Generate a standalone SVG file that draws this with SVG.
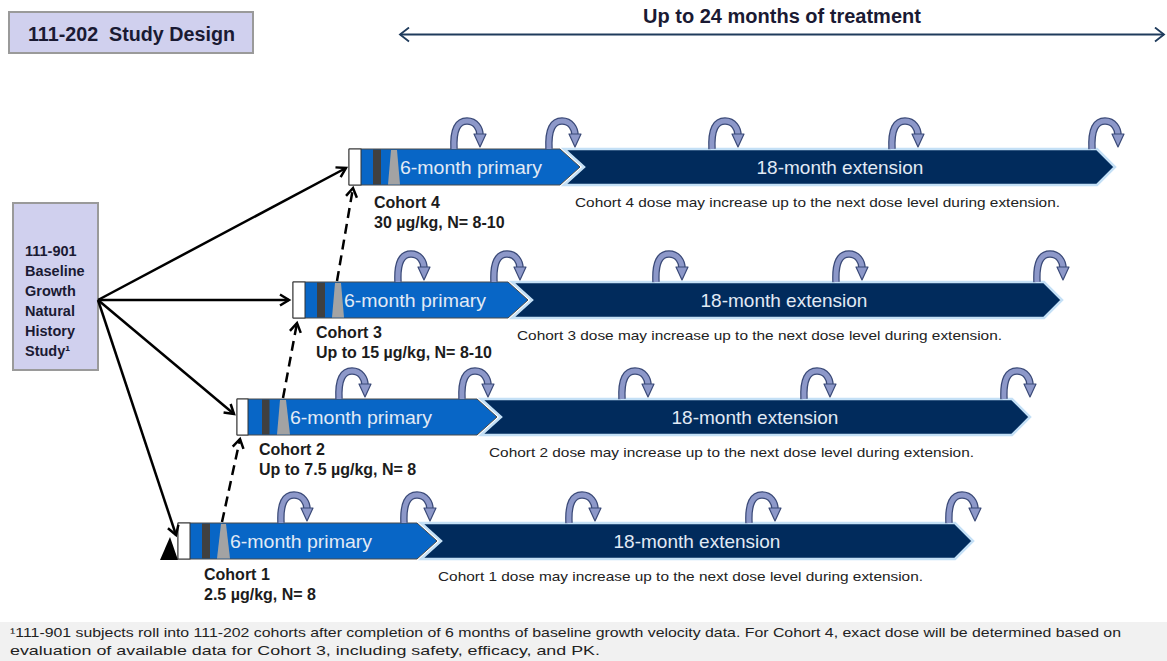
<svg xmlns="http://www.w3.org/2000/svg" xmlns:xlink="http://www.w3.org/1999/xlink" width="1167" height="661" viewBox="0 0 1167 661">
<style>
.box{fill:#d0d0ee;stroke:#9a9a9a;stroke-width:2}
.ttl{font-family:"Liberation Sans",Arial,sans-serif;font-weight:bold;fill:#1a1a33}
.prim{fill:#0866c6;stroke:#4a4a4a;stroke-width:1}
.ext{fill:#012b5c;stroke:#c4e0f6;stroke-width:2.5}
.wht{fill:#ffffff;stroke:#333;stroke-width:1}
.strp{fill:#404040}
.trap{fill:#a3a3a3}
.bart{font-family:"Liberation Sans",Arial,sans-serif;font-size:19px;fill:#e2eaf5}
.lbl{font-family:"Liberation Sans",Arial,sans-serif;font-size:16px;font-weight:bold;fill:#1c1c1c}
.note{font-family:"Liberation Sans",Arial,sans-serif;font-size:13px;fill:#222}
.foot{font-family:"Liberation Sans",Arial,sans-serif;font-size:13px;fill:#222}
.sol{fill:none;stroke:#000;stroke-width:2.5;marker-end:url(#ah)}
.dash{fill:none;stroke:#000;stroke-width:2.5;stroke-dasharray:10 6;marker-end:url(#ah)}
.loopo{fill:none;stroke:#3b4a78;stroke-width:7.5}
.loopi{fill:none;stroke:#8d98c9;stroke-width:5}
.looph{fill:#8d98c9;stroke:#3b4a78;stroke-width:1.2;stroke-linejoin:round}
</style>
<defs>
<marker id="ah" markerWidth="14" markerHeight="14" refX="11" refY="7" orient="auto" markerUnits="userSpaceOnUse">
<path d="M2,1.5 L11,7 L2,12.5" fill="none" stroke="#000" stroke-width="2.5"/>
</marker>
<marker id="tah" markerWidth="14" markerHeight="16" refX="10" refY="8" orient="auto-start-reverse" markerUnits="userSpaceOnUse">
<path d="M1,1 L10,8 L1,15" fill="none" stroke="#1f3b5c" stroke-width="1.8"/>
</marker>
<g id="loop">
<path class="loopo" d="M4,0 C3,-20 8,-28 17,-28 C26,-28 30,-20 30,-14"/>
<path class="loopi" d="M4,0 C3,-20 8,-28 17,-28 C26,-28 30,-20 30,-14"/>
<polygon class="looph" points="24,-15 36,-15 30,-2"/>
</g>
</defs>

<g id="title">
<rect class="box" x="9" y="12" width="244" height="41"/>
<text class="ttl" x="28" y="41" font-size="19.5" xml:space="preserve" textLength="207" lengthAdjust="spacingAndGlyphs">111-202  Study Design</text>
</g>

<g id="timeline">
<line x1="400" y1="34.5" x2="1164" y2="34.5" stroke="#1f3b5c" stroke-width="1.8" marker-start="url(#tah)" marker-end="url(#tah)"/>
<text class="ttl" x="782" y="23" font-size="20" text-anchor="middle" fill="#222">Up to 24 months of treatment</text>
</g>

<g id="baseline-study">
<rect class="box" x="13" y="203" width="85" height="167"/>
<text class="ttl" font-size="14.5" x="25" y="256">111-901</text>
<text class="ttl" font-size="14.5" x="25" y="276">Baseline</text>
<text class="ttl" font-size="14.5" x="25" y="296">Growth</text>
<text class="ttl" font-size="14.5" x="25" y="316">Natural</text>
<text class="ttl" font-size="14.5" x="25" y="336">History</text>
<text class="ttl" font-size="14.5" x="25" y="356">Study¹</text>
</g>

<g id="cohort4">
<polygon class="ext" points="564,149 1097,149 1115,167 1097,185 564,185 584,167"/>
<polygon class="prim" points="349,149 560,149 580,167 560,185 349,185"/>
<rect class="wht" x="349" y="149" width="12" height="36"/>
<rect class="strp" x="373" y="149.5" width="8" height="35"/>
<polygon class="trap" points="391,150 397,150 400,184.5 388,184.5"/>
<text class="bart" x="400" y="174" textLength="142" lengthAdjust="spacingAndGlyphs">6-month primary</text>
<text class="bart" x="840" y="174" text-anchor="middle">18-month extension</text>
<use href="#loop" x="450" y="149"/>
<use href="#loop" x="545" y="149"/>
<use href="#loop" x="708" y="149"/>
<use href="#loop" x="888" y="149"/>
<use href="#loop" x="1088" y="149"/>
<text class="lbl" x="374" y="208">Cohort 4</text>
<text class="lbl" x="374" y="228">30 µg/kg, N= 8-10</text>
<text class="note" x="575" y="207" textLength="485" lengthAdjust="spacingAndGlyphs">Cohort 4 dose may increase up to the next dose level during extension.</text>
</g>

<g id="cohort3">
<polygon class="ext" points="512,282 1044,282 1062,300 1044,318 512,318 532,300"/>
<polygon class="prim" points="293,282 508,282 528,300 508,318 293,318"/>
<rect class="wht" x="293" y="282" width="12" height="36"/>
<rect class="strp" x="317" y="282.5" width="8" height="35"/>
<polygon class="trap" points="335,283 341,283 344,317.5 332,317.5"/>
<text class="bart" x="344" y="307" textLength="142" lengthAdjust="spacingAndGlyphs">6-month primary</text>
<text class="bart" x="784" y="307" text-anchor="middle">18-month extension</text>
<use href="#loop" x="394" y="282"/>
<use href="#loop" x="490" y="282"/>
<use href="#loop" x="652" y="282"/>
<use href="#loop" x="832" y="282"/>
<use href="#loop" x="1033" y="282"/>
<text class="lbl" x="316" y="338">Cohort 3</text>
<text class="lbl" x="316" y="358">Up to 15 µg/kg, N= 8-10</text>
<text class="note" x="517" y="340" textLength="485" lengthAdjust="spacingAndGlyphs">Cohort 3 dose may increase up to the next dose level during extension.</text>
</g>

<g id="cohort2">
<polygon class="ext" points="481,399 1012,399 1030,417 1012,435 481,435 501,417"/>
<polygon class="prim" points="237,399 477,399 497,417 477,435 237,435"/>
<rect class="wht" x="237" y="399" width="11" height="36"/>
<rect class="strp" x="262" y="399.5" width="7.5" height="35"/>
<polygon class="trap" points="280,400 286,400 290,434.5 277,434.5"/>
<text class="bart" x="290" y="424" textLength="142" lengthAdjust="spacingAndGlyphs">6-month primary</text>
<text class="bart" x="755" y="424" text-anchor="middle">18-month extension</text>
<use href="#loop" x="335" y="399"/>
<use href="#loop" x="458" y="399"/>
<use href="#loop" x="618" y="399"/>
<use href="#loop" x="800" y="399"/>
<use href="#loop" x="1000" y="399"/>
<text class="lbl" x="259" y="455">Cohort 2</text>
<text class="lbl" x="259" y="475">Up to 7.5 µg/kg, N= 8</text>
<text class="note" x="489" y="457" textLength="485" lengthAdjust="spacingAndGlyphs">Cohort 2 dose may increase up to the next dose level during extension.</text>
</g>

<g id="cohort1">
<polygon class="ext" points="421,523 955,523 973,541 955,559 421,559 441,541"/>
<polygon class="prim" points="178,523 417,523 437,541 417,559 178,559"/>
<rect class="wht" x="178" y="523" width="12" height="36"/>
<rect class="strp" x="202" y="523.5" width="8" height="35"/>
<polygon class="trap" points="221,524 226,524 230,558.5 217,558.5"/>
<text class="bart" x="230" y="548" textLength="142" lengthAdjust="spacingAndGlyphs">6-month primary</text>
<text class="bart" x="697" y="548" text-anchor="middle">18-month extension</text>
<use href="#loop" x="277" y="523"/>
<use href="#loop" x="400" y="523"/>
<use href="#loop" x="565" y="523"/>
<use href="#loop" x="745" y="523"/>
<use href="#loop" x="945" y="523"/>
<text class="lbl" x="204" y="580">Cohort 1</text>
<text class="lbl" x="204" y="600">2.5 µg/kg, N= 8</text>
<text class="note" x="438" y="581" textLength="485" lengthAdjust="spacingAndGlyphs">Cohort 1 dose may increase up to the next dose level during extension.</text>
</g>

<g id="connectors">
<line class="sol" x1="98" y1="300" x2="346" y2="168"/>
<line class="sol" x1="98" y1="300" x2="289" y2="300"/>
<line class="sol" x1="98" y1="300" x2="234" y2="414"/>
<line class="sol" x1="98" y1="300" x2="176" y2="535"/>
<polygon points="170,537 160,560 178,560" fill="#000"/>
<line class="dash" x1="222" y1="522" x2="240" y2="439"/>
<line class="dash" x1="283" y1="398" x2="297" y2="323"/>
<line class="dash" x1="337" y1="281" x2="353" y2="188"/>
</g>

<g id="footnote">
<rect x="0" y="622" width="1167" height="39" fill="#f1f1f1"/>
<text class="foot" x="10" y="637" textLength="1111" lengthAdjust="spacingAndGlyphs">¹111-901 subjects roll into 111-202 cohorts after completion of 6 months of baseline growth velocity data. For Cohort 4, exact dose will be determined based on</text>
<text class="foot" x="10" y="655" textLength="590" lengthAdjust="spacingAndGlyphs">evaluation of available data for Cohort 3, including safety, efficacy, and PK.</text>
</g>
</svg>
